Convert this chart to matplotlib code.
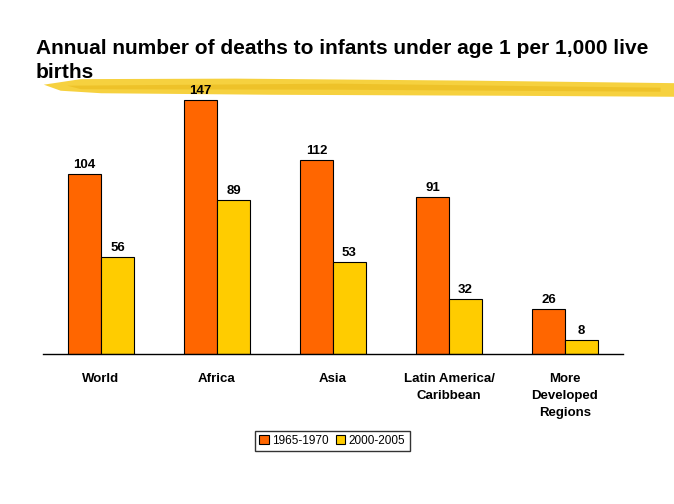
import numpy as np
import matplotlib.pyplot as plt
from matplotlib.patches import Polygon

categories = ['World', 'Africa', 'Asia', 'Latin America/\nCaribbean', 'More\nDeveloped\nRegions']
rate_1965 = [104, 147, 112, 91, 26]
rate_2000 = [56, 89, 53, 32, 8]
series_names = ['1965-1970', '2000-2005']

plt.rcParams['font.family'] = ['Liberation Sans', 'DejaVu Sans']

fig = plt.figure(figsize=(6.74, 5.04), dpi=100)

# brush-stroke decoration under the title
stroke = Polygon([(0.065, 0.832), (0.12, 0.843), (0.35, 0.844), (0.7, 0.84), (1.0, 0.835),
                  (1.0, 0.808), (0.75, 0.81), (0.4, 0.812), (0.15, 0.815), (0.09, 0.82)],
                 closed=True, transform=fig.transFigure, facecolor='#F5CC2A',
                 edgecolor='none', alpha=0.9, zorder=-2)
fig.patches.append(stroke)
stroke2 = Polygon([(0.1, 0.83), (0.5, 0.834), (0.98, 0.826), (0.98, 0.818), (0.5, 0.822), (0.12, 0.823)],
                  closed=True, transform=fig.transFigure, facecolor='#E0A800',
                  edgecolor='none', alpha=0.35, zorder=-1)
fig.patches.append(stroke2)

fig.text(0.053, 0.88, 'Annual number of deaths to infants under age 1 per 1,000 live\nbirths',
         fontsize=15, fontweight='bold', va='center', ha='left', linespacing=1.35)

ax = fig.add_axes([0.0638, 0.2976, 0.8605, 0.5314])
ax.patch.set_alpha(0)

x = np.arange(len(categories))
w = 0.284
b1 = ax.bar(x - w / 2, rate_1965, w, color='#FF6600', edgecolor='black', linewidth=0.8,
            label=series_names[0])
b2 = ax.bar(x + w / 2, rate_2000, w, color='#FFCC00', edgecolor='black', linewidth=0.8,
            label=series_names[1])

for bars in (b1, b2):
    for bar in bars:
        ax.text(bar.get_x() + bar.get_width() / 2, bar.get_height() + 1.8,
                str(int(bar.get_height())), ha='center', va='bottom',
                fontsize=9.5, fontweight='bold')

ax.set_xlim(-0.5, 4.5)
ax.set_ylim(0, 155)
ax.set_yticks([])
ax.set_xticks(x)
ax.set_xticklabels(categories, fontsize=9.5, fontweight='bold', linespacing=1.55)
ax.tick_params(axis='x', length=0, pad=14)
for s in ['top', 'left', 'right']:
    ax.spines[s].set_visible(False)
ax.spines['bottom'].set_linewidth(1.0)

fig.legend(loc='center', bbox_to_anchor=(0.493, 0.125), ncol=2, fontsize=8.5,
           frameon=True, fancybox=False, edgecolor='black', handlelength=0.8,
           handleheight=0.8, handletextpad=0.3, columnspacing=0.6, borderpad=0.35)

fig.savefig('out.png', dpi=100)
